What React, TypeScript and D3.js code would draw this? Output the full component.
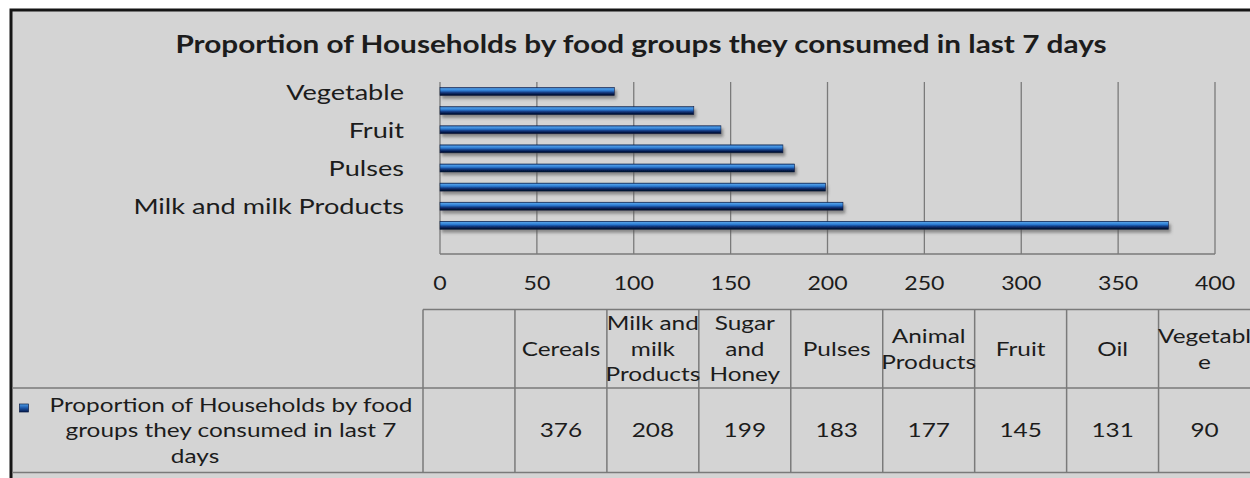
import React from "react";
import * as d3 from "d3";

const title = "Proportion of Households by food groups they consumed in last 7 days";
const categories = ["", "Cereals", "Milk and milk Products", "Sugar and Honey", "Pulses", "Animal Products", "Fruit", "Oil", "Vegetable"];
const values: (number | null)[] = [null, 376, 208, 199, 183, 177, 145, 131, 90];
const headerLines: string[][] = [[], ["Cereals"], ["Milk and", "milk", "Products"], ["Sugar", "and", "Honey"], ["Pulses"], ["Animal", "Products"], ["Fruit"], ["Oil"], ["Vegetabl", "e"]];
const axisLabelCats = ["Milk and milk Products", "Pulses", "Fruit", "Vegetable"];
const xTicks = [0, 50, 100, 150, 200, 250, 300, 350, 400];
const seriesNameLines = ["Proportion of Households by food", "groups they consumed in last 7", "days"];

const W = 1250, H = 478;
const FONT = "Lato, 'Open Sans', sans-serif";
const SX = 1.25;
const TEXT = "#1c1c1c";
const GRID = "#7a7a7a";
const BG = "#d4d4d4";

const plot = { left: 440, right: 1215, top: 82, bottom: 254 };
const table = { left: 423, right: 1250.5, top: 309.5, mid: 388, bottom: 472.5, outerLeft: 12 };

function Txt({ x, y, anchor = "middle", size, weight = 400, children }: any) {
  return (
    <text
      transform={`translate(${x},${y}) scale(${SX},1)`}
      textAnchor={anchor}
      fontFamily={FONT}
      fontSize={size}
      fontWeight={weight}
      fill={TEXT}
    >
      {children}
    </text>
  );
}

export default function App() {
  const idx = categories.map((_, i) => i);
  const x = d3.scaleLinear().domain([0, 400]).range([plot.left, plot.right]);
  const y = d3.scaleBand<number>().domain(idx).range([plot.bottom, plot.top]);
  const col = d3.scaleBand<number>().domain(idx).range([table.left, table.right]);
  const barH = 8;
  const lineGap = 25.5;
  const headMid = (table.top + table.mid) / 2;
  const valMid = (table.mid + table.bottom) / 2;

  return (
    <svg width={W} height={H} style={{ position: "absolute", left: 0, top: 0 }}>
      <defs>
        <linearGradient id="barGrad" x1="0" y1="0" x2="0" y2="1">
          <stop offset="0%" stopColor="#1d4f93" />
          <stop offset="15%" stopColor="#4f9de6" />
          <stop offset="40%" stopColor="#2b78cf" />
          <stop offset="60%" stopColor="#143f88" />
          <stop offset="82%" stopColor="#06194a" />
          <stop offset="100%" stopColor="#020b22" />
        </linearGradient>
        <linearGradient id="keyGrad" x1="0" y1="0" x2="0" y2="1">
          <stop offset="0%" stopColor="#4f9de6" />
          <stop offset="50%" stopColor="#1a56a8" />
          <stop offset="100%" stopColor="#06194a" />
        </linearGradient>
        <filter id="shadow" x="-5%" y="-100%" width="110%" height="400%">
          <feDropShadow dx="2" dy="3" stdDeviation="1.6" floodColor="#555" floodOpacity="0.6" />
        </filter>
      </defs>
      <rect x={0} y={0} width={W} height={H} fill="#ffffff" />
      <rect x={11} y={10} width={W + 20} height={H + 20} fill={BG} stroke="#151515" strokeWidth={3} />

      <Txt x={641} y={53} size={23.8} weight={700}>{title}</Txt>

      {/* gridlines */}
      {xTicks.map((t) => (
        <line key={t} x1={x(t)} x2={x(t)} y1={plot.top} y2={plot.bottom} stroke={GRID} strokeWidth={1.3} />
      ))}
      <line x1={plot.left} x2={plot.right} y1={plot.bottom} y2={plot.bottom} stroke={GRID} strokeWidth={1.3} />

      {/* bars */}
      {values.map((v, i) =>
        v == null ? null : (
          <rect
            key={i}
            x={x(0)}
            y={(y(i) as number) + y.bandwidth() / 2 - barH / 2}
            width={x(v) - x(0)}
            height={barH}
            fill="url(#barGrad)"
            stroke="#0b1f48"
            strokeWidth={0.6}
            filter="url(#shadow)"
          />
        )
      )}

      {/* category axis labels */}
      {axisLabelCats.map((c) => {
        const i = categories.indexOf(c);
        return (
          <Txt key={c} x={404} y={(y(i) as number) + y.bandwidth() / 2 + 8} anchor="end" size={21.7}>
            {c}
          </Txt>
        );
      })}

      {/* value axis labels */}
      {xTicks.map((t) => (
        <Txt key={t} x={x(t)} y={289.5} size={18.5}>{t}</Txt>
      ))}

      {/* data table */}
      <line x1={table.left} x2={W} y1={table.top} y2={table.top} stroke={GRID} strokeWidth={1.5} />
      <line x1={table.outerLeft} x2={W} y1={table.mid} y2={table.mid} stroke={GRID} strokeWidth={1.5} />
      <line x1={table.outerLeft} x2={W} y1={table.bottom} y2={table.bottom} stroke={GRID} strokeWidth={1.5} />
      {idx.map((i) => (
        <line key={i} x1={col(i) as number} x2={col(i) as number} y1={table.top} y2={table.bottom} stroke={GRID} strokeWidth={1.5} />
      ))}
      {headerLines.map((lines, i) =>
        lines.map((ln, k) => (
          <Txt
            key={i + "-" + k}
            x={(col(i) as number) + col.bandwidth() / 2}
            y={headMid + 7 + (k - (lines.length - 1) / 2) * lineGap}
            size={19.5}
          >
            {ln}
          </Txt>
        ))
      )}
      {values.map((v, i) =>
        v == null ? null : (
          <Txt key={i} x={(col(i) as number) + col.bandwidth() / 2} y={valMid + 7} size={19.5}>
            {v}
          </Txt>
        )
      )}

      {/* series legend */}
      <rect x={19.5} y={404} width={9} height={8} fill="url(#keyGrad)" stroke="#0a1d45" strokeWidth={0.7} />
      {seriesNameLines.map((ln, k) => (
        <Txt key={k} x={k < 2 ? 231 : 195} y={valMid + 7 + (k - 1) * lineGap} size={19.5}>
          {ln}
        </Txt>
      ))}
    </svg>
  );
}
